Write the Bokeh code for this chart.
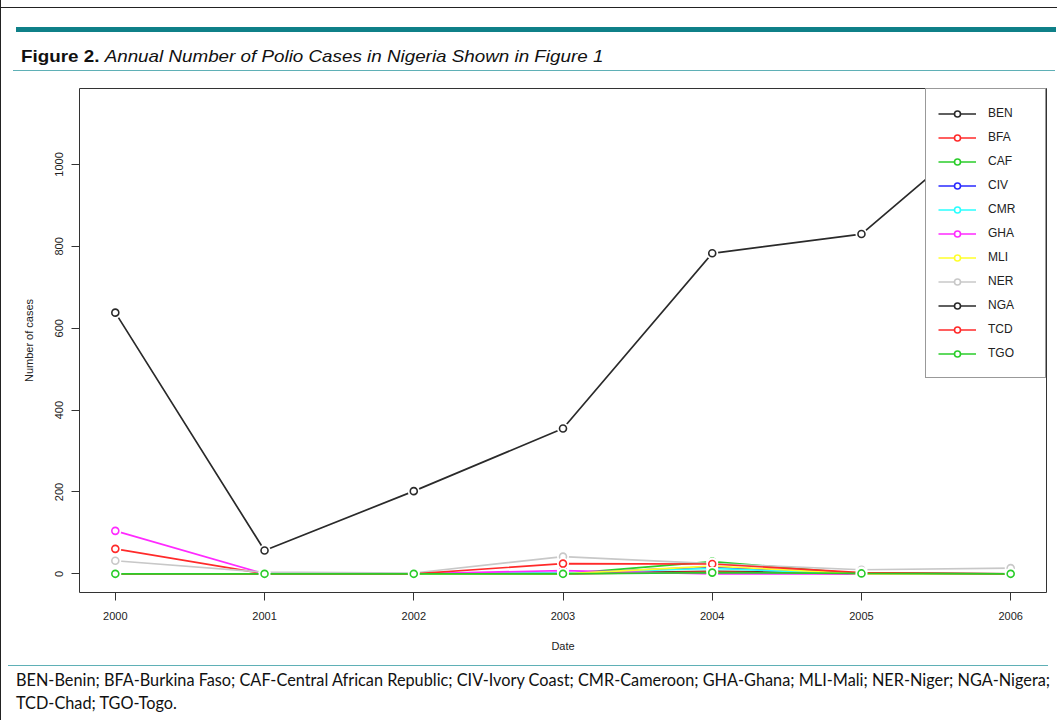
from bokeh.plotting import figure
from bokeh.models import Range1d, Legend, LegendItem, Div, FixedTicker
from bokeh.layouts import column
from bokeh.embed import file_html
from bokeh.resources import INLINE

# ---------------- data ----------------
years = [2000, 2001, 2002, 2003, 2004, 2005, 2006]
countries = ["BEN", "BFA", "CAF", "CIV", "CMR", "GHA", "MLI", "NER", "NGA", "TCD", "TGO"]
BEN = [0, 0, 0, 1, 6, 2, 0]
BFA = [61, 0, 0, 0, 5, 0, 0]
CAF = [0, 0, 0, 0, 30, 0, 0]
CIV = [0, 0, 0, 1, 17, 0, 0]
CMR = [0, 0, 0, 2, 13, 0, 0]
GHA = [105, 0, 0, 8, 0, 0, 0]
MLI = [0, 0, 0, 0, 19, 0, 0]
NER = [32, 4, 2, 42, 25, 10, 14]
NGA = [638, 57, 202, 355, 783, 830, 1140]
TCD = [0, 0, 0, 25, 24, 3, 0]
TGO = [0, 0, 0, 0, 3, 1, 0]
series = [BEN, BFA, CAF, CIV, CMR, GHA, MLI, NER, NGA, TCD, TGO]
palette = ["#2a2a2a", "#FF2a2a", "#2ACD2A", "#2a2aFF", "#2aFFFF",
           "#FF2aFF", "#FFFF2a", "#C8C8C8", "#2a2a2a", "#FF2a2a", "#2ACD2A"]
y_ticks = [0, 200, 400, 600, 800, 1000]
title_bold = "Figure 2."
title_italic = "Annual Number of Polio Cases in Nigeria Shown in Figure 1"
footer_1 = ("BEN-Benin; BFA-Burkina Faso; CAF-Central African Republic; CIV-Ivory Coast; "
            "CMR-Cameroon; GHA-Ghana; MLI-Mali; NER-Niger; NGA-Nigera;")
footer_2 = "TCD-Chad; TGO-Togo."

FONT = "Liberation Sans"
TEAL = "#0f8088"
TEAL_LIGHT = "#5fb0b6"

# ---------------- title block ----------------
title_div = Div(
    width=1049, height=64,
    text=(
        f'<div style="position:relative;width:1049px;height:64px;font-family:\'{FONT}\',Arial,sans-serif;">'
        '<div style="position:absolute;left:-6px;top:2px;width:1100px;height:1px;background:#222;"></div>'
        f'<div style="position:absolute;left:10px;top:22px;width:1040px;height:5px;background:{TEAL};"></div>'
        '<div style="position:absolute;left:15px;top:40px;font-size:16.5px;color:#111;white-space:nowrap;'
        'transform:scaleX(1.14);transform-origin:0 50%;">'
        f'<b>{title_bold}</b> <i>{title_italic}</i></div>'
        f'<div style="position:absolute;left:7px;top:65px;width:1042px;height:1px;background:{TEAL_LIGHT};"></div>'
        '</div>'
    ),
)

# ---------------- chart ----------------
p = figure(
    width=1049, height=583,
    x_range=Range1d(1999.76, 2006.24),
    y_range=Range1d(-45.6, 1185.6),
    output_backend="svg", toolbar_location=None,
    min_border_left=78, min_border_right=4, min_border_top=14, min_border_bottom=65,
    background_fill_color="white", border_fill_color="white",
)
p.outline_line_color = "#333333"
p.outline_line_width = 1
p.xgrid.visible = False
p.ygrid.visible = False

p.xaxis.ticker = FixedTicker(ticks=years)
p.yaxis.ticker = FixedTicker(ticks=y_ticks)
for ax in (p.xaxis, p.yaxis):
    ax.axis_line_color = None
    ax.major_tick_in = 0
    ax.major_tick_out = 8
    ax.major_tick_line_color = "#333333"
    ax.minor_tick_line_color = None
    ax.major_label_text_font = FONT
    ax.major_label_text_font_size = "11px"
    ax.major_label_text_color = "#222222"
    ax.axis_label_text_font = FONT
    ax.axis_label_text_font_size = "11px"
    ax.axis_label_text_font_style = "normal"
    ax.axis_label_text_color = "#222222"
    ax.major_label_standoff = 8
p.xaxis.major_label_standoff = 11
p.xaxis.axis_label = "Date"
p.xaxis.axis_label_standoff = 17
p.yaxis.axis_label = "Number of cases"
p.yaxis.axis_label_standoff = 18
p.yaxis.major_label_orientation = "vertical"

items = []
for name, vals, col in zip(countries, series, palette):
    lr = p.line(years, vals, line_color=col, line_width=1.7)
    p.scatter(years, vals, size=12, marker="circle", fill_color="white", line_color=None)
    cr = p.scatter(years, vals, size=7, marker="circle", fill_color="white",
                   line_color=col, line_width=1.6)
    items.append(LegendItem(label=name, renderers=[lr, cr]))

legend = Legend(
    items=items, location="top_right", margin=0, padding=12,
    glyph_width=38, glyph_height=15, label_height=24, spacing=0,
    label_standoff=12, label_width=45,
    label_text_font=FONT, label_text_font_size="12px", label_text_color="#222222",
    border_line_color="#333333", border_line_width=1,
    background_fill_color="white", background_fill_alpha=1.0,
)
p.add_layout(legend)

# ---------------- footer ----------------
footer_div = Div(
    width=1049, height=57,
    text=(
        '<div style="position:relative;width:1049px;height:57px;font-family:Lato,sans-serif;">'
        f'<div style="position:absolute;left:2px;top:3px;width:1040px;height:1px;background:{TEAL_LIGHT};"></div>'
        '<div style="position:absolute;left:10px;top:6px;font-size:16.3px;line-height:23px;color:#111;white-space:nowrap;">'
        f'{footer_1}<br>{footer_2}</div>'
        '</div>'
    ),
)

layout = column(title_div, p, footer_div, spacing=0,
                styles={"border-left": "1px solid #222"})

open("out.html", "w").write(file_html(layout, INLINE))
